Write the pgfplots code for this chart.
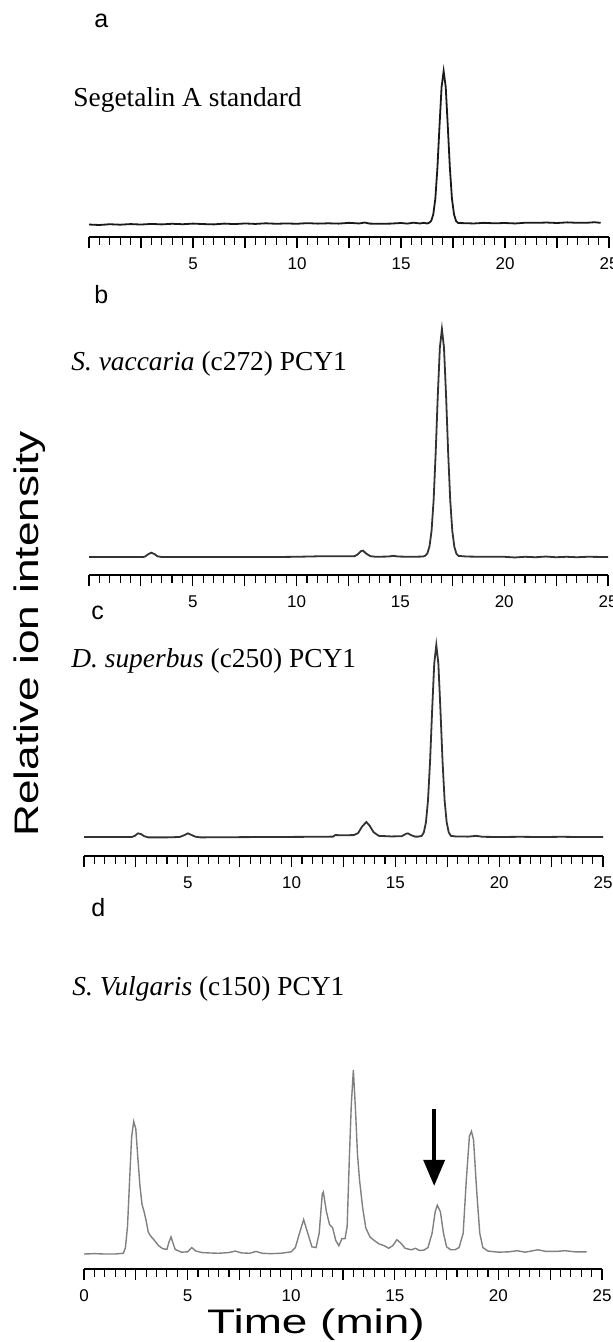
\documentclass[border=0pt]{standalone}
\usepackage{fontspec}
\setmainfont{Liberation Serif}
\setsansfont{Liberation Sans}
\usepackage{graphicx}
\usepackage{pgfplots}
\pgfplotsset{compat=1.18}
\usetikzlibrary{arrows.meta}
\pgfplotsset{chrom/.style={
  scale only axis, anchor=south west,
  axis y line=none, axis x line*=bottom, ytick=\empty,
  xmin=0, xmax=25, ymax=100, clip=false,
  xtick={0,2.5,...,25},
  xticklabels={{},{},5,{},10,{},15,{},20,{},25},
  minor x tick num=4,
  tick align=outside,
  major tick length=5.5pt, minor tick length=4pt,
  x axis line style={line width=1pt, black},
  xtick style={line width=0.55pt, black},
  minor x tick style={line width=0.55pt, black},
  xticklabel style={font=\sffamily\fontsize{8.5}{9}\selectfont, yshift=-1.5pt},
  /pgf/number format/assume math mode=true,
}}
\newcommand{\ttl}{\fontsize{13.7}{15}\selectfont}
\newcommand{\pl}{\sffamily\fontsize{12.5}{14}\selectfont}
\begin{document}
\begin{tikzpicture}
\useasboundingbox (0,0) rectangle (306.5pt,-671pt);
% ---------- panel a
\begin{axis}[chrom, at={(44.5pt,-118.5pt)}, width=260pt, height=83pt, ymin=-7.79]
\addplot[line width=0.9pt, color=black!90] coordinates {
(0,0.3)(0.5,0.0)(1,0.5)(1.5,0.2)(2,0.6)(2.5,0.3)(3,0.7)(3.5,0.4)(4,0.8)(4.5,0.5)
(5,0.9)(5.5,0.6)(6,0.4)(6.5,0.9)(7,0.6)(7.5,1.0)(8,0.7)(8.5,1.1)(9,0.8)(9.5,1.0)
(10,0.8)(10.5,1.2)(11,0.9)(11.5,1.1)(12,0.9)(12.5,1.4)(13,1.0)(13.25,1.6)(13.5,0.9)
(14,0.8)(14.5,0.9)(15,1.3)(15.3,0.9)(15.6,1.5)(15.9,1.0)(16.1,1.4)(16.25,1.0)
(16.35,1.4)(16.45,2.6)(16.55,6.8)(16.65,17)(16.75,37)(16.85,64)(16.95,89.5)(17.05,100)
(17.15,89.5)(17.25,64)(17.35,37)(17.45,17)(17.55,6.8)(17.65,2.5)(17.75,1.3)
(18,1.2)(18.5,1.0)(19,1.4)(19.5,1.1)(20,1.3)(20.5,1.0)(21,1.5)(21.5,1.4)(22,1.6)
(22.5,1.3)(23,1.7)(23.5,1.4)(24,1.5)(24.3,1.8)(24.6,1.4)};
\end{axis}
% ---------- panel b
\begin{axis}[chrom, at={(44.5pt,-287.5pt)}, width=259.5pt, height=123pt, ymin=-7.89]
\addplot[line width=0.9pt, color=black!80] coordinates {
(0,0)(1,0)(2,0)(2.6,0)(2.7,0.2)(2.85,1.2)(3.0,1.9)(3.15,1.3)(3.3,0.3)(3.5,0)
(5,0)(7,0)(9,0)(10,0.1)(11,0.3)(12,0.3)(12.6,0.3)(12.8,0.4)(12.95,1.2)(13.1,2.6)(13.2,2.8)
(13.35,1.5)(13.55,0.4)(13.8,0.1)(14.4,0.2)(14.67,0.5)(14.9,0.2)(15.5,0.1)(16.1,0.2)
(16.2,0.6)(16.3,1.6)(16.4,4.6)(16.5,11.4)(16.6,24.9)(16.7,45.8)(16.8,70.7)(16.9,91.7)(17.0,100)
(17.1,91.7)(17.2,70.7)(17.3,45.8)(17.4,24.9)(17.5,11.4)(17.6,4.4)(17.7,1.4)(17.8,0.5)
(18.2,0.2)(19,0.1)(20,0.1)(20.5,-0.2)(21,0.1)(21.5,-0.1)(22,0.2)(22.5,-0.1)(23,0.1)(23.5,-0.1)(24,0.1)(25,0)};
\end{axis}
% ---------- panel c
\begin{axis}[chrom, at={(42pt,-428pt)}, width=259.5pt, height=105.5pt, ymin=-9.9]
\addplot[line width=0.9pt, color=black!80] coordinates {
(0,0)(1,0)(2,0)(2.3,0)(2.45,0.6)(2.6,1.9)(2.75,1.5)(2.9,0.4)(3.1,-0.2)(4,-0.2)(4.6,0)
(4.8,0.8)(5.0,1.9)(5.15,1.2)(5.35,0.2)(5.6,-0.2)(7,-0.1)(9,0)(11,0.1)(12.0,0.2)(12.1,1.0)
(12.5,0.9)(13.0,1.0)(13.2,2.0)(13.4,5.5)(13.6,7.8)(13.75,6.0)(13.95,2.5)(14.2,0.6)(14.8,0.3)(15.3,0.4)
(15.5,1.6)(15.6,1.9)(15.75,1.0)(15.95,0.2)(16.1,0.2)(16.27,0.6)(16.37,2.4)(16.47,7.6)(16.57,19.1)
(16.67,39.5)(16.77,66.1)(16.87,90.2)(16.97,100)(17.07,90.2)(17.17,66.1)(17.27,39.5)
(17.37,19.1)(17.47,7.6)(17.57,2.4)(17.67,0.6)(17.9,0.3)(18.5,0.2)(18.9,0.6)(19.2,0.1)
(20,0)(21,0.1)(22,0)(23,0.1)(24,0)(25,0)};
\end{axis}
% ---------- panel d
\begin{axis}[chrom, at={(42pt,-634.5pt)}, width=259pt, height=99.5pt, ymin=-8.15,
  xticklabels={0,{},5,{},10,{},15,{},20,{},25}]
\addplot[line width=0.7pt, color=black!50] coordinates {
(0,0)(0.5,0.2)(1.0,0)(1.5,0)(1.9,0.4)(2.0,3.5)(2.1,15)(2.2,40)(2.3,64)(2.4,72)(2.5,68)
(2.6,52)(2.7,37)(2.8,27)(2.9,23)(3.0,18)(3.1,12)(3.2,10)(3.4,7.4)(3.6,4.5)(3.8,2.9)
(4.0,2.5)(4.1,6.4)(4.2,9.3)(4.3,5.8)(4.4,2.5)(4.7,1.0)(5.0,1.2)(5.2,3.5)(5.4,1.6)
(5.7,0.8)(6.0,0.6)(6.5,0.4)(7.0,0.8)(7.3,1.6)(7.6,0.6)(8.0,0.4)(8.3,1.4)(8.6,0.4)
(9.0,0.2)(9.5,0.4)(10.0,1.2)(10.2,3.5)(10.4,11.3)(10.6,18.7)(10.8,11.3)(11.0,3.9)
(11.2,3.5)(11.35,11.3)(11.5,32.7)(11.55,33.7)(11.7,23)(11.85,16)(12.0,14.2)(12.15,7.4)
(12.3,4.5)(12.45,8.4)(12.6,8.4)(12.7,15)(12.8,50)(12.9,81)(13.0,100)(13.1,79)(13.2,54)
(13.3,40)(13.45,25)(13.6,14.2)(13.8,9.3)(14.0,7.4)(14.25,5.4)(14.5,4.5)(14.7,3.1)
(14.9,4.5)(15.1,7.8)(15.3,5.8)(15.5,3.1)(15.8,2.3)(16.0,3.1)(16.2,1.9)(16.4,2.1)
(16.6,3.5)(16.8,11.3)(16.95,23)(17.05,26.5)(17.2,23)(17.35,11.3)(17.5,3.9)(17.7,2.3)
(17.9,2.3)(18.1,3.5)(18.3,11.3)(18.45,40)(18.6,64)(18.7,66.7)(18.8,62)(18.95,34.6)
(19.1,11.3)(19.25,3.5)(19.5,1.6)(20.0,1.0)(20.5,1.2)(20.9,1.8)(21.3,1.0)(21.9,2.3)
(22.3,1.4)(22.8,1.4)(23.2,1.8)(23.7,1.2)(24.26,1.2)};
\draw[line width=1.8pt, -{Triangle[length=13pt, width=10.5pt]}] (axis cs:16.9,78.8) -- (axis cs:16.9,37);
\end{axis}
% ---------- texts
\node[anchor=base west, inner sep=0, font=\pl] at (47pt,-14pt) {a};
\node[anchor=base west, inner sep=0, font=\ttl] at (36.5pt,-53.5pt) {Segetalin A standard};
\node[anchor=base west, inner sep=0, font=\pl] at (47pt,-151.8pt) {b};
\node[anchor=base west, inner sep=0, font=\ttl] at (35.5pt,-185pt) {\textit{S. vaccaria} (c272) PCY1};
\node[anchor=base west, inner sep=0, font=\pl] at (45.5pt,-309.5pt) {c};
\node[anchor=base west, inner sep=0, font=\ttl] at (35.5pt,-333.5pt) {\textit{D. superbus} (c250) PCY1};
\node[anchor=base west, inner sep=0, font=\pl] at (45.5pt,-458pt) {d};
\node[anchor=base west, inner sep=0, font=\ttl] at (36pt,-497.5pt) {\textit{S. Vulgaris} (c150) PCY1};
\node[anchor=base, inner sep=0, font=\sffamily\fontsize{17}{20}\selectfont] at (158pt,-666.5pt) {\scalebox{1.35}[1]{Time (min)}};
\node[anchor=base, inner sep=0, rotate=90, font=\sffamily\fontsize{17}{20}\selectfont] at (19.5pt,-317pt) {\scalebox{1.3}[1]{Relative ion intensity}};
\end{tikzpicture}
\end{document}
